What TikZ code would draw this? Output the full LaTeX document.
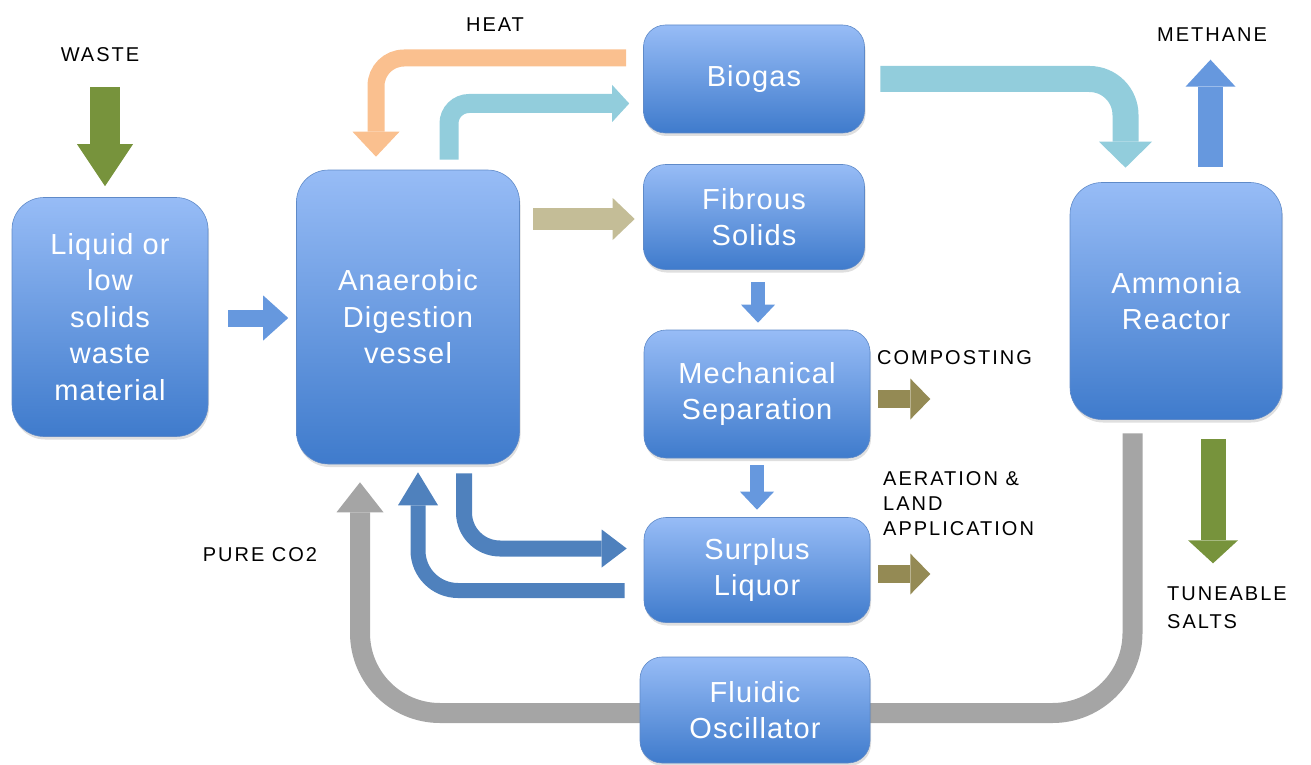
\documentclass[tikz,border=0pt]{standalone}
\usepackage{fontspec}
\setmainfont{Liberation Sans}[LetterSpace=4]
\newfontfamily\tagfont{Liberation Sans}[LetterSpace=10]
\usetikzlibrary{arrows.meta,shadows,backgrounds}

\definecolor{boxtop}{RGB}{151,188,246}
\definecolor{boxbot}{RGB}{63,123,204}
\definecolor{boxrim}{RGB}{95,138,200}
\definecolor{gasblue}{RGB}{146,205,220}
\definecolor{heatorange}{RGB}{250,192,143}
\definecolor{wastegreen}{RGB}{119,147,60}
\definecolor{fibretan}{RGB}{196,189,151}
\definecolor{outflow}{RGB}{148,138,84}
\definecolor{liquorblue}{RGB}{79,129,189}
\definecolor{midblue}{RGB}{102,152,222}
\definecolor{co2grey}{RGB}{165,165,165}

\begin{document}
\begin{tikzpicture}[x=1pt, y=-1pt,
  box/.style       = {draw=boxrim, line width=0.6pt, rounded corners=22pt,
                      top color=boxtop, bottom color=boxbot, text=white,
                      align=center, inner sep=0pt,
                      font=\fontsize{29}{36.5}\selectfont,
                      drop shadow={shadow xshift=1pt, shadow yshift=-3pt, opacity=0.25}},
  tall/.style      = {rounded corners=32pt},
  tag/.style       = {font=\tagfont\fontsize{20}{25}\selectfont, inner sep=0pt, align=left},
  pipe/.style      = {line width=#1, line cap=butt},
  blockhead/.style 2 args = {-{Triangle[length=#1, width=#2, line width=0pt]}},
]
  \useasboundingbox (0,0) rectangle (1311,765);

  % boxes, placed at the pixel centres of the slide (y runs down)
  \node[box,tall, minimum width=196pt, minimum height=239pt] (liq) at (110,317)
    {Liquid or\\low\\solids\\waste\\material};
  \node[box,tall, minimum width=223pt, minimum height=294pt] (ad) at (408,317)
    {Anaerobic\\Digestion\\vessel};
  \node[box, minimum width=221pt, minimum height=108pt] (gas) at (754,79) {Biogas};
  \node[box, minimum width=221pt, minimum height=105pt] (fib) at (754,217) {Fibrous\\Solids};
  \node[box, minimum width=226pt, minimum height=128pt] (mech) at (757,394)
    {Mechanical\\Separation};
  \node[box, minimum width=226pt, minimum height=105pt] (liquor) at (757,570)
    {Surplus\\Liquor};
  \node[box, minimum width=230pt, minimum height=106pt] (osc) at (755,710)
    {Fluidic\\Oscillator};
  \node[box,tall, minimum width=212pt, minimum height=237pt] (nh3) at (1176,301)
    {Ammonia\\Reactor};

  % plain labels
  \node[tag] (waste) at (100,55) {WASTE};
  \node[tag] (heat) at (495,25) {HEAT};
  \node[tag] (methane) at (1212,35) {METHANE};
  \node[tag, anchor=west] (compost) at (877,358) {COMPOSTING};
  \node[tag, anchor=north west] (aerate) at (883,471) {AERATION \&\\LAND\\APPLICATION};
  \node[tag] (pure) at (260,555) {PURE CO2};
  \node[tag, anchor=north west] (salts) at (1167,587) {TUNEABLE\\[3pt]SALTS};

  \begin{scope}[on background layer]
  % feed
  \draw[pipe=30pt, draw=wastegreen, blockhead={42pt}{56pt}]
    ([xshift=-5pt,yshift=110pt]liq.north) -- ([xshift=-5pt,yshift=11pt]liq.north);
  \draw[pipe=17pt, draw=midblue, blockhead={25pt}{45pt}]
    ([xshift=20pt,yshift=-1pt]liq.east) -- ([xshift=-8pt,yshift=-1pt]ad.west);

  % gas out, heat back
  \draw[pipe=19pt, draw=gasblue, blockhead={17pt}{37pt}, rounded corners=20pt]
    ([xshift=41pt,yshift=10pt]ad.north) |- ([xshift=-14pt,yshift=-24.5pt]gas.west);
  \draw[pipe=17pt, draw=heatorange, blockhead={25pt}{47pt}, rounded corners=28pt]
    ([xshift=-17pt,yshift=21pt]gas.west) -| ([xshift=-32pt,yshift=13pt]ad.north);
  \draw[pipe=26pt, draw=gasblue, blockhead={26pt}{53pt}, rounded corners=36pt]
    ([xshift=15.5pt]gas.east) -| ([xshift=-50.5pt,yshift=14.5pt]nh3.north);
  \draw[pipe=25pt, draw=midblue, blockhead={27pt}{50pt}]
    ([xshift=34.5pt,yshift=15.5pt]nh3.north) -- ([xshift=34.5pt,yshift=122.5pt]nh3.north);
  \draw[pipe=25pt, draw=wastegreen, blockhead={23pt}{50pt}]
    ([xshift=37pt,yshift=-19pt]nh3.south) -- ([xshift=37pt,yshift=-143.5pt]nh3.south);

  % solids and liquor
  \draw[pipe=22pt, draw=fibretan, blockhead={22pt}{42pt}]
    ([xshift=13.5pt,yshift=98pt]ad.east) -- ([xshift=-8.5pt,yshift=-2pt]fib.west);
  \draw[pipe=14pt, draw=midblue, blockhead={18pt}{34pt}]
    ([xshift=4pt,yshift=-12.5pt]fib.south) -- ([xshift=1pt,yshift=7pt]mech.north);
  \draw[pipe=14pt, draw=midblue, blockhead={18pt}{34pt}]
    ([yshift=-7pt]mech.south) -- ([yshift=7.5pt]liquor.north);
  \draw[pipe=18pt, draw=outflow, blockhead={20pt}{41pt}]
    ([xshift=8pt,yshift=-5pt]mech.east) -- ([xshift=60pt,yshift=-5pt]mech.east);
  \draw[pipe=18pt, draw=outflow, blockhead={20pt}{41pt}]
    ([xshift=8pt,yshift=-4pt]liquor.east) -- ([xshift=60pt,yshift=-4pt]liquor.east);
  \draw[pipe=16pt, draw=liquorblue, blockhead={25pt}{38pt}, rounded corners=36pt]
    ([xshift=56pt,yshift=-9pt]ad.south) |- ([xshift=-17pt,yshift=21.5pt]liquor.west);
  \draw[pipe=15pt, draw=liquorblue, blockhead={33pt}{40pt}, rounded corners=40pt]
    ([xshift=-19pt,yshift=-20.5pt]liquor.west) -| ([xshift=10pt,yshift=-8pt]ad.south);

  % pure CO2 loop through the oscillator
  \draw[pipe=20pt, draw=co2grey, blockhead={30pt}{47pt}, rounded corners=80pt]
    ([xshift=-43.5pt,yshift=-13.5pt]nh3.south) |- ([yshift=-3pt]osc.center)
    -| ([xshift=-48pt,yshift=-18pt]ad.south);
  \end{scope}
\end{tikzpicture}
\end{document}
